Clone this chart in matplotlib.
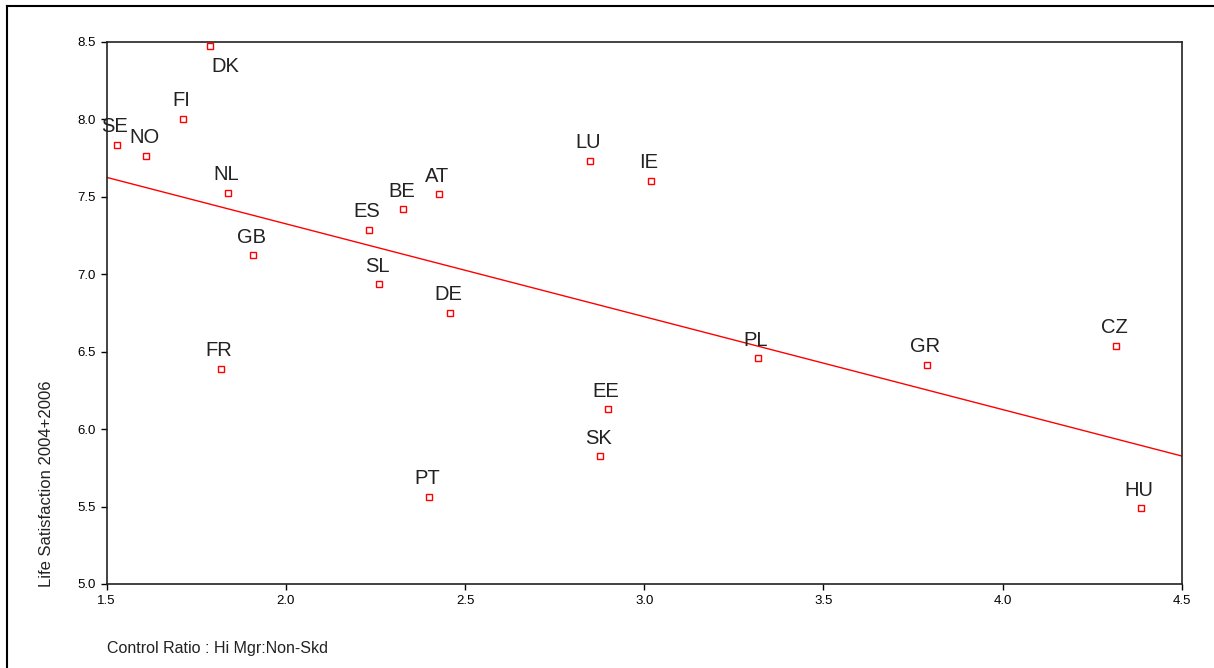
"""Life satisfaction vs control ratio scatter with linear fit."""
import matplotlib
matplotlib.use('Agg')
import matplotlib.pyplot as plt
from matplotlib.lines import Line2D
import numpy as np

plt.rcParams['font.family'] = ['Liberation Sans', 'DejaVu Sans']

# Data
countries = ['DK', 'FI', 'SE', 'NO', 'NL', 'GB', 'FR', 'ES', 'BE', 'AT', 'SL', 'DE',
             'PT', 'LU', 'IE', 'EE', 'SK', 'PL', 'GR', 'CZ', 'HU']
control_ratio = [1.788, 1.713, 1.528, 1.611, 1.839, 1.909, 1.819, 2.232, 2.328, 2.428,
                 2.260, 2.459, 2.399, 2.849, 3.018, 2.898, 2.878, 3.317, 3.788, 4.317, 4.386]
life_sat = [8.472, 8.003, 7.835, 7.764, 7.525, 7.123, 6.388, 7.285, 7.420, 7.515,
            6.936, 6.751, 5.563, 7.732, 7.601, 6.129, 5.826, 6.457, 6.415, 6.538, 5.488]
x_ticks = [1.5, 2.0, 2.5, 3.0, 3.5, 4.0, 4.5]
y_ticks = [5.0, 5.5, 6.0, 6.5, 7.0, 7.5, 8.0, 8.5]

W, H = 1214, 668
fig = plt.figure(figsize=(W / 100, H / 100), dpi=100)
ax = fig.add_axes([106.7 / W, 1 - 584 / H, 1075 / W, 542.3 / H])

x = np.array(control_ratio)
y = np.array(life_sat)
ax.plot(x, y, 's', ms=4, mfc='white', mec='red', mew=1, zorder=3)

# linear fit across the whole axis range
slope, intercept = np.polyfit(x, y, 1)
xs = np.array([x_ticks[0], x_ticks[-1]])
ax.plot(xs, intercept + slope * xs, color='red', lw=1, zorder=2)

for name, cx, cy in zip(countries, x, y):
    if name == 'DK':
        ax.annotate(name, (cx, cy), xytext=(15, -20), textcoords='offset pixels',
                    ha='center', va='center', fontsize=14.5, color='#222222')
    else:
        ax.annotate(name, (cx, cy), xytext=(-2, 18), textcoords='offset pixels',
                    ha='center', va='center', fontsize=14.5, color='#222222')

ax.set_xlim(x_ticks[0], x_ticks[-1])
ax.set_ylim(y_ticks[0], y_ticks[-1])
ax.set_xticks(x_ticks)
ax.set_yticks(y_ticks)
ax.set_xticklabels([f'{t:.1f}' for t in x_ticks])
ax.set_yticklabels([f'{t:.1f}' for t in y_ticks])
ax.tick_params(direction='out', length=4, width=1, labelsize=9.5, colors='black', pad=4)
for s in ax.spines.values():
    s.set_linewidth(1.2)
    s.set_color('#222222')

fig.text(47 / W, 1 - 587 / H, 'Life Satisfaction 2004+2006', rotation=90,
         ha='center', va='bottom', fontsize=12, color='#222222')
fig.text(107 / W, 1 - 649 / H, 'Control Ratio : Hi Mgr:Non-Skd',
         ha='left', va='center', fontsize=11.5, color='#222222')

# outer frame: top and left edges only
fig.add_artist(Line2D([7 / W, 1], [1 - 5.5 / H, 1 - 5.5 / H], color='black', lw=1.5,
                      transform=fig.transFigure))
fig.add_artist(Line2D([7 / W, 7 / W], [0, 1 - 5.5 / H], color='black', lw=1.5,
                      transform=fig.transFigure))

fig.savefig('out.png', dpi=100, facecolor='white')
